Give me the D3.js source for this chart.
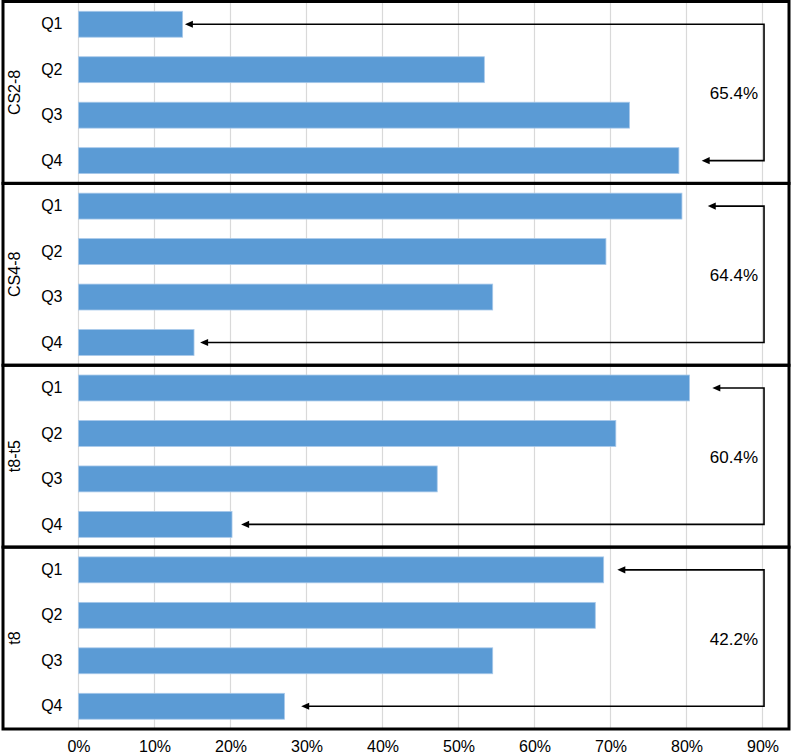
<!DOCTYPE html>
<html>
<head>
<meta charset="utf-8">
<script src="https://cdn.jsdelivr.net/npm/d3@7"></script>
<style>
  html, body { margin: 0; padding: 0; background: #fff; }
  svg { display: block; font-family: Arial, "Liberation Sans", sans-serif; }
</style>
</head>
<body>
<svg id="chart" width="792" height="754"></svg>
<script>
// ---- data ----
const panels = ["CS2-8", "CS4-8", "t8-t5", "t8"];
const quarters = ["Q1", "Q2", "Q3", "Q4"];
const valuesCS28 = [13.7, 53.4, 72.5, 79.0];
const valuesCS48 = [79.4, 69.4, 54.5, 15.2];
const valuesT8T5 = [80.4, 70.7, 47.2, 20.2];
const valuesT8   = [69.1, 68.0, 54.5, 27.1];
const seriesValues = [valuesCS28, valuesCS48, valuesT8T5, valuesT8];
const diffLabels = ["65.4%", "64.4%", "60.4%", "42.2%"];
// arrow tip positions (percent units) for the Q1 arrow and the Q4 arrow
const arrowTipQ1 = [14.0, 82.8, 83.4, 70.9];
const arrowTipQ4 = [82.0, 16.0, 21.4, 29.3];
const connectorValue = 90.2;
const tickValues = [0, 10, 20, 30, 40, 50, 60, 70, 80, 90];

// ---- layout ----
const svg = d3.select("#chart");
const frameLeft = 3, frameRight = 789, frameTop = 1.5, frameBottom = 729;
const x = d3.scaleLinear().domain([0, 90]).range([78.5, 762.5]);
const panelBand = d3.scaleBand().domain(panels).range([frameTop, frameBottom]).padding(0);
const barColor = "#5b9bd5";

// gridlines
svg.append("g").selectAll("line").data(tickValues).join("line")
  .attr("x1", d => x(d)).attr("x2", d => x(d))
  .attr("y1", frameTop).attr("y2", frameBottom)
  .attr("stroke", "#d9d9d9").attr("stroke-width", 1.2);

panels.forEach((p, i) => {
  const top = panelBand(p);
  const h = panelBand.bandwidth();
  const y = d3.scaleBand().domain(quarters).range([top, top + h]).paddingInner(0.43).paddingOuter(0.215);
  const g = svg.append("g");
  const vals = seriesValues[i];

  g.selectAll("rect").data(quarters).join("rect")
    .attr("x", x(0))
    .attr("y", q => y(q))
    .attr("width", (q, k) => x(vals[k]) - x(0))
    .attr("height", y.bandwidth())
    .attr("fill", barColor)
    .attr("stroke", "#a8c9ea")
    .attr("stroke-width", 0.8);

  // category axis
  const ax = g.append("g").attr("transform", `translate(${x(0)},0)`)
    .call(d3.axisLeft(y).tickSize(0).tickPadding(16));
  ax.select(".domain").remove();
  ax.selectAll("text").attr("font-size", 16).attr("font-family", "Arial, 'Liberation Sans', sans-serif").attr("fill", "#000");

  // panel title
  g.append("text")
    .attr("transform", `translate(14,${top + h / 2}) rotate(-90)`)
    .attr("text-anchor", "middle").attr("dominant-baseline", "central")
    .attr("font-size", 16).text(p);

  // connector arrow
  const y1 = y("Q1") + y.bandwidth() / 2;
  const y4 = y("Q4") + y.bandwidth() / 2;
  const xc = x(connectorValue);
  const ah = 8, aw = 3.6;
  const t1 = x(arrowTipQ1[i]), t4 = x(arrowTipQ4[i]);
  g.append("path")
    .attr("d", `M${t1 + ah - 1},${y1}H${xc}V${y4}H${t4 + ah - 1}`)
    .attr("fill", "none").attr("stroke", "#000").attr("stroke-width", 1.6);
  [[t1, y1], [t4, y4]].forEach(([tx, ty]) => {
    g.append("path")
      .attr("d", `M${tx},${ty}L${tx + ah},${ty - aw}L${tx + ah},${ty + aw}Z`)
      .attr("fill", "#000");
  });

  g.append("text")
    .attr("x", xc - 6).attr("y", top + h / 2 + 1)
    .attr("text-anchor", "end").attr("dominant-baseline", "central")
    .attr("font-size", 17).text(diffLabels[i]);

  // panel border
  g.append("rect")
    .attr("x", frameLeft).attr("y", top)
    .attr("width", frameRight - frameLeft).attr("height", h)
    .attr("fill", "none").attr("stroke", "#000").attr("stroke-width", 3);
});

// bottom axis
const xa = svg.append("g").attr("transform", `translate(0,${frameBottom})`)
  .call(d3.axisBottom(x).tickValues(tickValues).tickFormat(d => d + "%").tickSize(0).tickPadding(12));
xa.select(".domain").remove();
xa.selectAll("text").attr("font-size", 16).attr("font-family", "Arial, 'Liberation Sans', sans-serif").attr("fill", "#000");
</script>
</body>
</html>
